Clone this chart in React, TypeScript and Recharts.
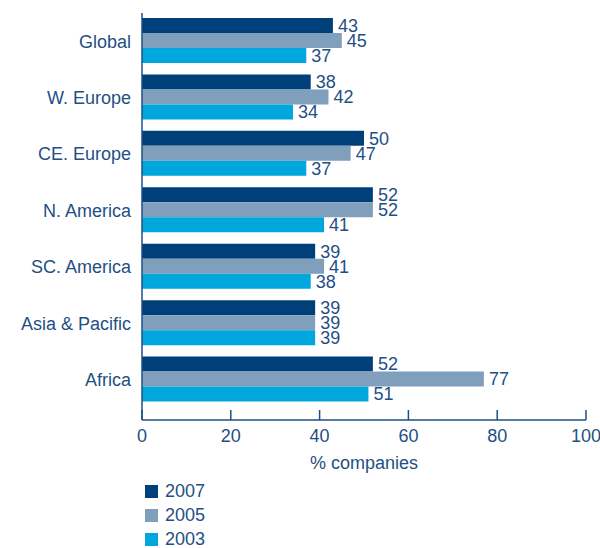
import { Bar, BarChart, LabelList, XAxis, YAxis } from "recharts";

const regions = ["Global", "W. Europe", "CE. Europe", "N. America", "SC. America", "Asia & Pacific", "Africa"];
const y2007 = [43, 38, 50, 52, 39, 39, 52];
const y2005 = [45, 42, 47, 52, 41, 39, 77];
const y2003 = [37, 34, 37, 41, 38, 39, 51];
const xTicks = [0, 20, 40, 60, 80, 100];

const TEXT = "#1f4f85";
const FONT = "'Liberation Sans', Arial, Helvetica, sans-serif";

const seriesList = [
  { key: "y2007", name: "2007", color: "#00407a" },
  { key: "y2005", name: "2005", color: "#809fbd" },
  { key: "y2003", name: "2003", color: "#00a7dc" },
];

const data = regions.map((region, i) => ({
  region,
  y2007: y2007[i],
  y2005: y2005[i],
  y2003: y2003[i],
}));

// legend sits under the axis title, stacked vertically
function LegendBox() {
  return (
    <div style={{ position: "absolute", left: 145, top: 479, fontFamily: FONT }}>
      {seriesList.map((s) => (
        <div key={s.key} style={{ display: "flex", alignItems: "center", height: 24, color: TEXT, fontSize: 18 }}>
          <span style={{ width: 13, height: 13, background: s.color, display: "inline-block", marginRight: 7 }} />
          {s.name}
        </div>
      ))}
    </div>
  );
}

export default function App() {
  return (
    <div style={{ position: "absolute", left: 0, top: 0, width: 600, height: 548, background: "#fff" }}>
      <BarChart
        width={600}
        height={548}
        data={data}
        layout="vertical"
        margin={{ top: 13, right: 14, left: 0, bottom: 76 }}
        barCategoryGap={5}
        barGap={0}
        style={{ fontFamily: FONT }}
      >
        <XAxis
          type="number"
          domain={[0, 100]}
          ticks={xTicks}
          height={52}
          stroke={TEXT}
          strokeWidth={1.5}
          tickSize={-10}
          tickMargin={19}
          tick={{ fill: TEXT, fontSize: 18 }}
          label={{ value: "% companies", position: "insideBottom", offset: 3, fill: TEXT, fontSize: 18 }}
        />
        <YAxis
          type="category"
          dataKey="region"
          width={142}
          stroke={TEXT}
          strokeWidth={1.5}
          tickLine={false}
          tickMargin={5}
          padding={{ top: 0, bottom: 12 }}
          tick={{ fill: TEXT, fontSize: 18 }}
        />
        {seriesList.map((s) => (
          <Bar key={s.key} dataKey={s.key} name={s.name} fill={s.color} isAnimationActive={false}>
            <LabelList dataKey={s.key} position="right" offset={5} fill={TEXT} fontSize={18} />
          </Bar>
        ))}
      </BarChart>
      <LegendBox />
    </div>
  );
}
